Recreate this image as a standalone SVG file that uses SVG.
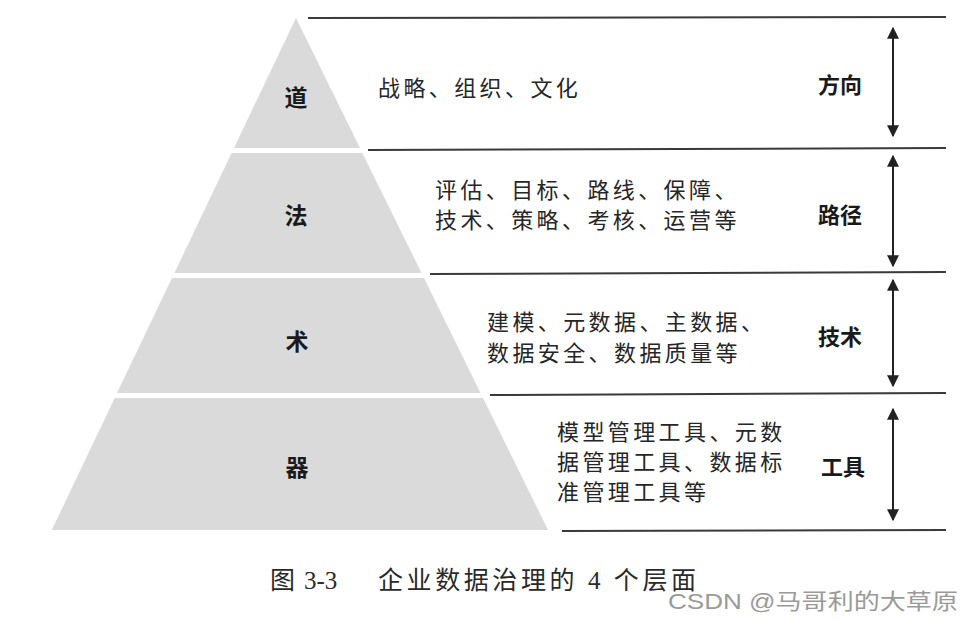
<svg xmlns="http://www.w3.org/2000/svg" width="965" height="621" viewBox="0 0 965 621">
<style>
.band{fill:#dadada}
.rule{stroke:#3a3a3a;stroke-width:2;fill:none}
.arr{stroke:#222;stroke-width:2;fill:none;marker-start:url(#ah);marker-end:url(#ah)}
.lvl{font-family:"Noto Sans CJK SC","Noto Sans",sans-serif;font-size:23px;font-weight:bold;fill:#1a1a1a;text-anchor:middle}
.lab{font-family:"Noto Sans CJK SC","Noto Sans",sans-serif;font-size:22px;font-weight:bold;fill:#1a1a1a;text-anchor:middle}
.desc{font-family:"Noto Sans CJK SC","Noto Sans",sans-serif;font-size:22px;letter-spacing:3.4px;fill:#262626}
.cap{font-family:"Liberation Serif","Noto Sans CJK SC",serif;font-size:25px;fill:#2a2a2a}
.wm{font-family:"Liberation Sans","Noto Sans CJK SC",sans-serif;font-size:22px;fill:#9a9a9a}
</style>
<defs>
<marker id="ah" viewBox="0 0 10 10" refX="9" refY="5" markerWidth="6" markerHeight="7" orient="auto-start-reverse" markerUnits="strokeWidth">
<path d="M0,0 L10,5 L0,10 Z" fill="#222"/>
</marker>
</defs>
<g id="connectors">
<line class="rule" x1="308" y1="18" x2="946" y2="17"/>
<line class="rule" x1="368" y1="150" x2="946" y2="148"/>
<line class="rule" x1="430" y1="274" x2="946" y2="272"/>
<line class="rule" x1="490" y1="395" x2="946" y2="393"/>
<line class="rule" x1="562" y1="531" x2="946" y2="530"/>
<line class="arr" x1="893" y1="28" x2="893" y2="136"/>
<line class="arr" x1="893" y1="156" x2="893" y2="266"/>
<line class="arr" x1="893" y1="280" x2="893" y2="386"/>
<line class="arr" x1="893" y1="409" x2="893" y2="520"/>
</g>
<g id="dao">
<polygon class="band" points="296,18 360,148 234,148"/>
<text class="lvl" x="296" y="106">道</text>
<text class="desc" x="378" y="96">战略、组织、文化</text>
<text class="lab" x="840" y="93">方向</text>
</g>
<g id="fa">
<polygon class="band" points="231.6,153 362.4,153 421.5,273 174.4,273"/>
<text class="lvl" x="296" y="224">法</text>
<text class="desc" x="435" y="198">评估、目标、路线、保障、</text>
<text class="desc" x="435" y="228">技术、策略、考核、运营等</text>
<text class="lab" x="840" y="223">路径</text>
</g>
<g id="shu">
<polygon class="band" points="172,278 424,278 480.5,393 117,393"/>
<text class="lvl" x="297" y="350">术</text>
<text class="desc" x="487" y="330">建模、元数据、主数据、</text>
<text class="desc" x="487" y="361">数据安全、数据质量等</text>
<text class="lab" x="840" y="345">技术</text>
</g>
<g id="qi">
<polygon class="band" points="114.7,398 483,398 548,530 51.8,530"/>
<text class="lvl" x="297" y="476">器</text>
<text class="desc" x="557" y="440">模型管理工具、元数</text>
<text class="desc" x="557" y="470">据管理工具、数据标</text>
<text class="desc" x="557" y="500">准管理工具等</text>
<text class="lab" x="843" y="475">工具</text>
</g>
<g id="caption">
<text class="cap" x="270" y="589">图<tspan x="304">3-3</tspan></text>
<text class="cap" x="378" y="589" textLength="318" lengthAdjust="spacing">企业数据治理的 4 个层面</text>
</g>
<g id="watermark">
<text class="wm" x="668" y="609" textLength="290" lengthAdjust="spacingAndGlyphs">CSDN @马哥利的大草原</text>
</g>
</svg>
